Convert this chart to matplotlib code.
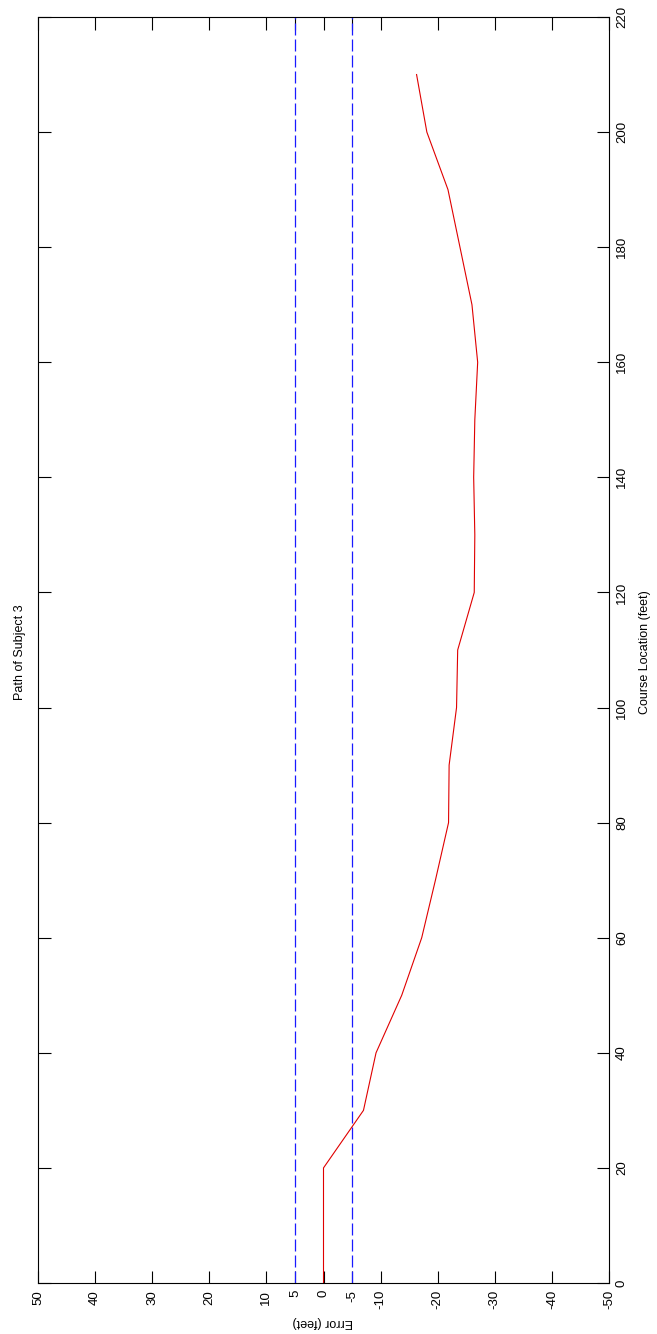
import numpy as np
import matplotlib
matplotlib.use('Agg')
import matplotlib.pyplot as plt

course = [0, 10, 20, 30, 40, 50, 60, 70, 80, 90, 100, 110, 120, 130, 140, 150,
          160, 170, 180, 190, 200, 210]
error = [0, 0, 0, -7.0, -9.2, -13.7, -17.2, -19.6, -21.9, -22.0, -23.3, -23.5,
         -26.4, -26.5, -26.3, -26.5, -27.0, -26.0, -23.9, -21.8, -18.1, -16.3]
bounds = [5, -5]
err_ticks = [50, 40, 30, 20, 10, 5, 0, -5, -10, -20, -30, -40, -50]
course_ticks = list(range(0, 221, 20))

plt.rcParams['font.family'] = ['Liberation Sans', 'DejaVu Sans']
plt.rcParams['axes.unicode_minus'] = False

fig = plt.figure(figsize=(6.57, 13.34), dpi=100)
ax = fig.add_axes([38/657, 51/1334, 571/657, 1266/1334])

for b in bounds:
    ax.axvline(b, color='#1a1aff', linewidth=0.9, dashes=(9.6, 3.2))
ax.plot(error, course, '-', color='#e00000', linewidth=0.8)

ax.set_xlim(50, -50)
ax.set_ylim(0, 220)
ax.set_xticks(err_ticks)
ax.set_xticklabels([str(t) for t in err_ticks], rotation=90, fontsize=9.5)
ax.set_yticks(course_ticks)
ax.set_yticklabels([str(t) for t in course_ticks], rotation=90, fontsize=9.5,
                   va='center')
ax.yaxis.tick_right()
ax.tick_params(direction='in', length=9, width=0.8, top=True, bottom=True,
               left=True, right=True, labelleft=False, labelright=True,
               labeltop=False, labelbottom=True, pad=5)
for s in ax.spines.values():
    s.set_linewidth(0.8)

fig.text(20/657, 1 - 652/1334, 'Path of Subject 3', rotation=90,
         ha='center', va='center', fontsize=9)
fig.text(645/657, 1 - 652/1334, 'Course Location (feet)', rotation=90,
         ha='center', va='center', fontsize=9)
fig.text(323/657, 1 - 1322/1334, 'Error (feet)', rotation=180,
         ha='center', va='center', fontsize=9)

plt.savefig('out.png', dpi=100)
